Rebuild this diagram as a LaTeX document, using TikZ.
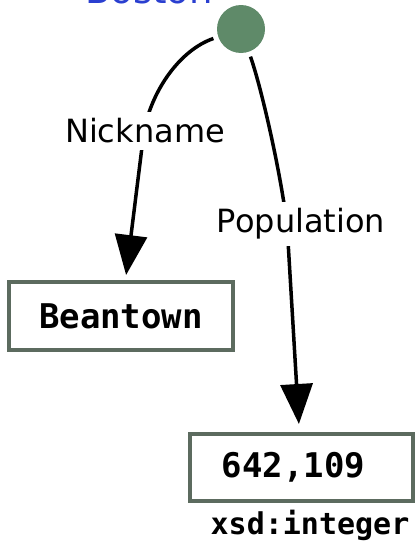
\documentclass[tikz,border=0pt]{standalone}
\usepackage{fontspec}
\setmainfont{DejaVu Sans}
\setmonofont{DejaVu Sans Mono}
\usetikzlibrary{arrows.meta}
\definecolor{resnode}{HTML}{5F8A69}
\definecolor{boxedge}{HTML}{5C6B5F}
\definecolor{titleblue}{HTML}{2A3FD0}
\tikzset{
  prop/.style={line width=3.5pt},
  propend/.style={prop, -{Triangle[length=40pt,width=32pt]}},
  proplabel/.style={fill=white, inner sep=7pt, font=\fontsize{32}{38}\selectfont},
  litbox/.style={draw=boxedge, line width=4pt, inner sep=0pt,
    font=\fontsize{34}{40}\selectfont\ttfamily\bfseries},
}
\begin{document}
\begin{tikzpicture}[x=1pt,y=-1pt]
\useasboundingbox (0,0) rectangle (418,549);
% subject resource with its name above
\node[text=titleblue, anchor=base, font=\fontsize{37}{42}\selectfont] (title) at (149,3) {Boston};
\node[circle, fill=resnode, minimum size=48pt, inner sep=0pt] (b) at (241,29) {};
% literal values
\node[litbox, minimum width=224pt, minimum height=68pt] (bt) at (121,316) {Beantown};
\node[litbox, minimum width=223pt, minimum height=67pt] (num) at (301.5,467.5) {642,109\hspace*{16pt}};
\node[font=\fontsize{30}{36}\selectfont\ttfamily\bfseries] (dt) at (310,525) {xsd:integer};
% points where the property names sit on their arcs
\coordinate (nmid) at (144,131);
\coordinate (pmid) at (287,224);
% properties
\draw[prop, shorten <=5pt] (b) .. controls (180,50) and (152,90) .. (nmid);
\draw[propend, shorten >=5pt] (nmid) -- (bt);
\draw[prop, shorten <=5pt] (b) .. controls (262,90) and (280,170) .. (pmid);
\draw[propend, shorten >=8pt] (pmid) -- (num);
\node[proplabel] (nick) at (145,131) {Nickname};
\node[proplabel] (pop) at (301,224) {Population};
\end{tikzpicture}
\end{document}
